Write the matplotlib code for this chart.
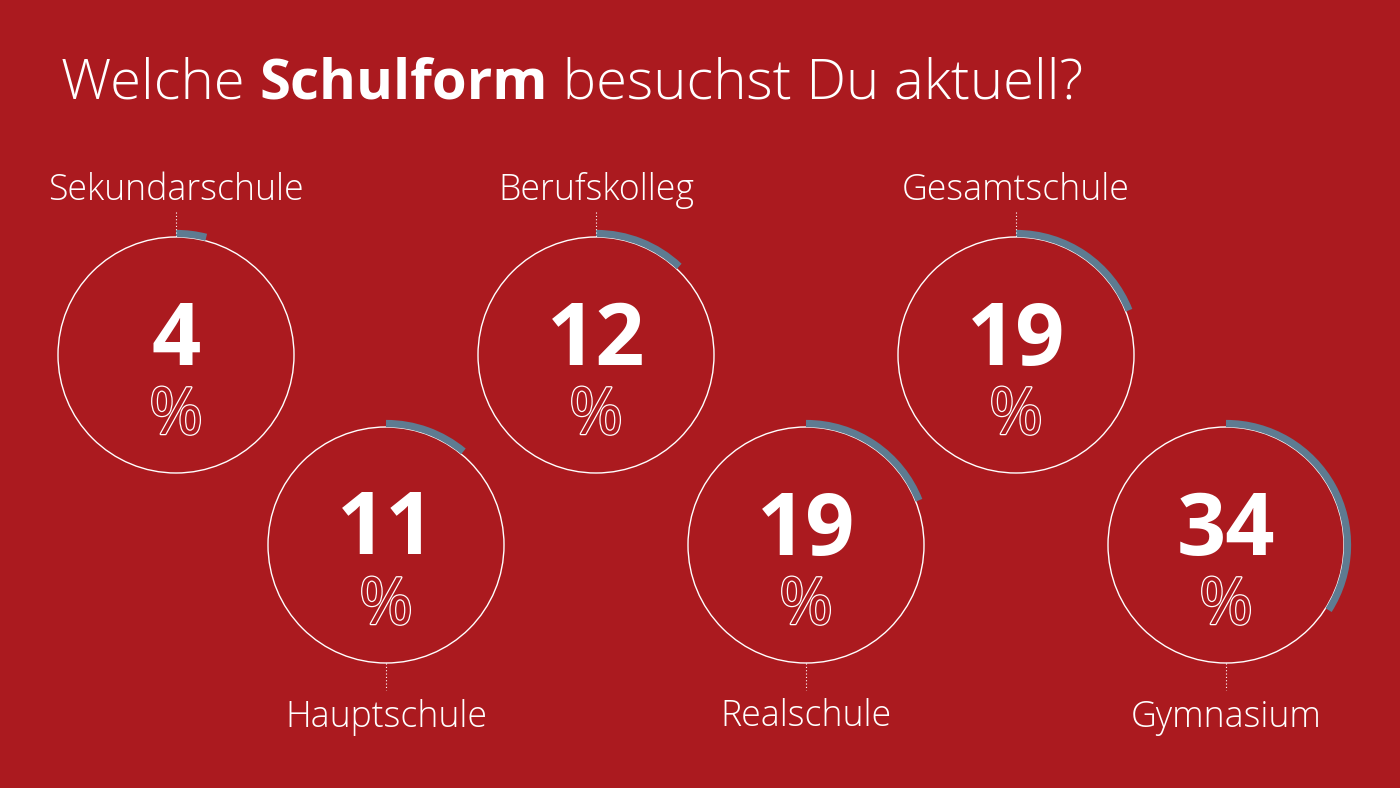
import matplotlib
matplotlib.use('Agg')
import matplotlib.pyplot as plt
import matplotlib.patches as mpatches
import matplotlib.patheffects as pe

# data
schools = ['Sekundarschule', 'Hauptschule', 'Berufskolleg', 'Realschule', 'Gesamtschule', 'Gymnasium']
values = [4, 11, 12, 19, 19, 34]

bg = '#AB1A1F'
arc_col = '#5E7B91'
fam = 'Open Sans'

fig = plt.figure(figsize=(14, 7.88), dpi=100, facecolor=bg)
ax = fig.add_axes([0, 0, 1, 1])
ax.set_xlim(0, 1400)
ax.set_ylim(788, 0)
ax.set_facecolor(bg)
ax.axis('off')

r = 118
for i, (name, v) in enumerate(zip(schools, values)):
    cx = 176 + i * 210
    top = i % 2 == 0
    cy = 355 if top else 545
    ax.add_patch(mpatches.Circle((cx, cy), r, fill=False, ec='white', lw=1.0))
    ax.add_patch(mpatches.Arc((cx, cy), 2 * (r + 3.5), 2 * (r + 3.5),
                              theta1=-90, theta2=-90 + v * 3.6,
                              color=arc_col, lw=5.2, capstyle='butt'))
    ax.text(cx, cy - 13, str(v), ha='center', va='center', color='white',
            fontsize=62, fontweight='bold', family=fam)
    pct = ax.text(cx, cy + 62, '%', ha='center', va='center', color=bg,
                  fontsize=47, family=fam)
    pct.set_path_effects([pe.Stroke(linewidth=1.8, foreground='white'), pe.Normal()])
    if top:
        ax.plot([cx, cx], [212, cy - r], color='white', lw=0.8, ls=(0, (1, 2)))
        ax.text(cx, 190, name, ha='center', va='center', color='white',
                fontsize=25.7, family=fam, fontweight='light')
    else:
        ax.plot([cx, cx], [cy + r, 690], color='white', lw=0.8, ls=(0, (1, 2)))
        ax.text(cx, 717, name, ha='center', va='center', color='white',
                fontsize=25.7, family=fam, fontweight='light')

# title with bold word
t1 = ax.text(61, 84, 'Welche ', ha='left', va='center', color='white',
             fontsize=40.6, family=fam, fontweight='light')
fig.canvas.draw()
t2 = ax.annotate('Schulform', xycoords=t1, xy=(1, 0.5), va='center', ha='left',
                 color='white', fontsize=40.6, family=fam, fontweight='bold')
fig.canvas.draw()
ax.annotate(' besuchst Du aktuell?', xycoords=t2, xy=(1, 0.5), va='center', ha='left',
            color='white', fontsize=40.6, family=fam, fontweight='light')

fig.savefig('out.png', dpi=100, facecolor=bg)
